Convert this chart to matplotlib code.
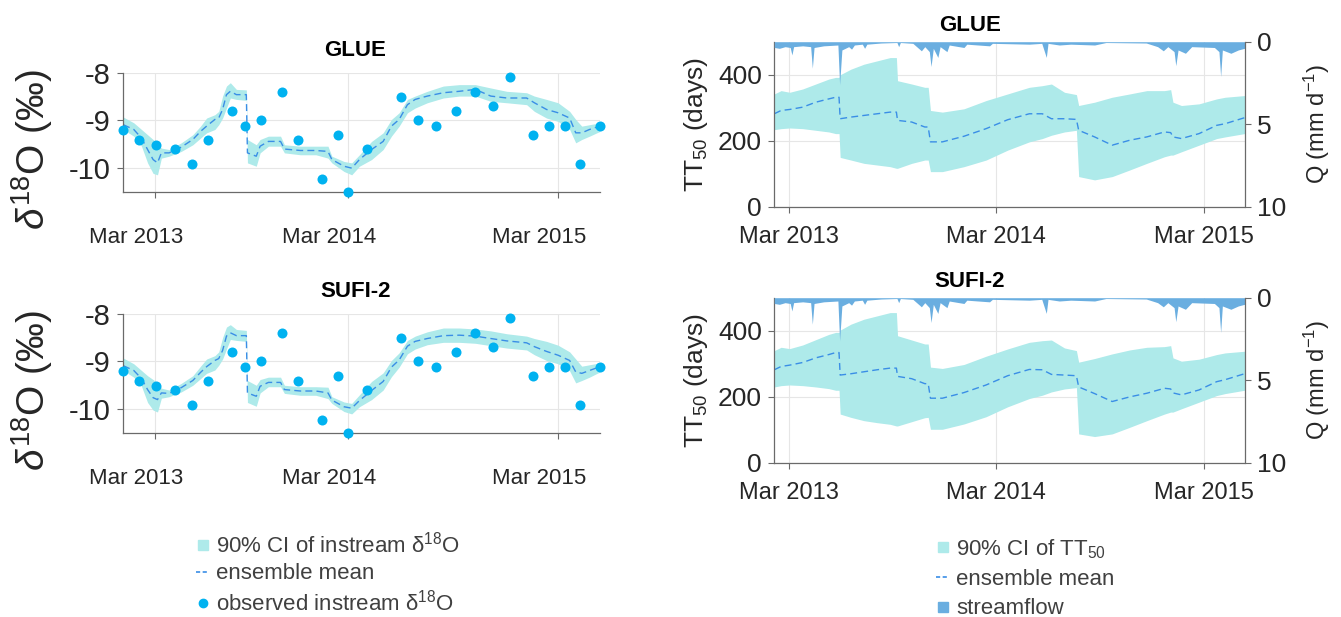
import numpy as np
import matplotlib
matplotlib.use('Agg')
import matplotlib.pyplot as plt
import matplotlib.dates as mdates
from matplotlib.lines import Line2D
from matplotlib.transforms import ScaledTranslation

plt.rcParams['font.family'] = ['Liberation Sans', 'DejaVu Sans']
plt.rcParams['mathtext.fontset'] = 'custom'
plt.rcParams['mathtext.rm'] = 'Liberation Sans'
plt.rcParams['mathtext.it'] = 'Liberation Sans:italic'
plt.rcParams['mathtext.bf'] = 'Liberation Sans:bold'
plt.rcParams['axes.unicode_minus'] = False

# ---------------- data: instream d18O (left panels) ----------------
iso_dates = ['2013-01-02', '2013-01-21', '2013-02-04', '2013-02-15', '2013-02-25', '2013-03-05',
             '2013-03-12', '2013-03-26', '2013-04-17', '2013-05-08', '2013-05-22', '2013-06-02',
             '2013-06-17', '2013-06-24', '2013-07-01', '2013-07-08', '2013-07-15', '2013-07-26',
             '2013-08-13', '2013-08-15', '2013-08-31', '2013-09-07', '2013-09-22', '2013-10-14',
             '2013-10-21', '2013-11-19', '2013-12-17', '2014-01-08', '2014-01-15', '2014-02-06',
             '2014-02-20', '2014-03-06', '2014-03-28', '2014-04-18', '2014-05-03', '2014-05-17',
             '2014-06-01', '2014-06-15', '2014-07-07', '2014-08-05', '2014-09-03', '2014-10-02',
             '2014-10-30', '2014-11-28', '2015-01-03', '2015-01-17', '2015-02-08', '2015-03-01',
             '2015-03-22', '2015-04-02', '2015-04-13', '2015-04-27', '2015-05-16']

glue_iso_upper = [-8.93, -9.05, -9.19, -9.30, -9.40, -9.47, -9.58, -9.61, -9.47, -9.30, -9.12, -8.95,
                  -8.88, -8.81, -8.49, -8.28, -8.21, -8.35, -8.36, -9.40, -9.51, -9.40, -9.33, -9.33,
                  -9.51, -9.54, -9.54, -9.54, -9.75, -9.86, -9.89, -9.72, -9.44, -9.26, -8.98, -8.84,
                  -8.56, -8.49, -8.39, -8.28, -8.25, -8.25, -8.32, -8.39, -8.42, -8.49, -8.56, -8.63,
                  -8.81, -8.98, -9.12, -9.09, -9.05]
glue_iso_lower = [-9.19, -9.33, -9.54, -9.89, -10.11, -10.14, -9.79, -9.75, -9.65, -9.51, -9.37, -9.26,
                  -9.19, -9.09, -8.95, -8.74, -8.53, -8.56, -8.58, -9.89, -9.96, -9.68, -9.54, -9.54,
                  -9.68, -9.72, -9.72, -9.79, -9.89, -10.07, -10.14, -9.96, -9.82, -9.61, -9.33, -9.12,
                  -8.84, -8.74, -8.63, -8.53, -8.49, -8.49, -8.60, -8.63, -8.67, -8.81, -8.95, -9.02,
                  -9.19, -9.47, -9.40, -9.33, -9.23]
glue_iso_mean = [-9.09, -9.19, -9.37, -9.61, -9.82, -9.89, -9.68, -9.68, -9.56, -9.40, -9.23, -9.12,
                 -8.98, -8.95, -8.77, -8.46, -8.39, -8.46, -8.46, -9.68, -9.75, -9.54, -9.44, -9.44,
                 -9.60, -9.63, -9.63, -9.65, -9.82, -9.96, -10.00, -9.82, -9.61, -9.44, -9.12, -8.98,
                 -8.67, -8.56, -8.49, -8.42, -8.39, -8.35, -8.49, -8.53, -8.53, -8.63, -8.77, -8.84,
                 -8.95, -9.26, -9.26, -9.19, -9.12]

sufi_iso_upper = [-8.93, -9.05, -9.19, -9.30, -9.38, -9.45, -9.56, -9.60, -9.46, -9.30, -9.10, -8.95,
                  -8.88, -8.80, -8.50, -8.28, -8.23, -8.33, -8.35, -9.40, -9.50, -9.38, -9.33, -9.33,
                  -9.50, -9.53, -9.53, -9.54, -9.74, -9.85, -9.88, -9.70, -9.42, -9.24, -8.98, -8.82,
                  -8.56, -8.47, -8.38, -8.30, -8.30, -8.32, -8.36, -8.42, -8.47, -8.52, -8.58, -8.66,
                  -8.80, -8.95, -9.10, -9.07, -9.03]
sufi_iso_lower = [-9.19, -9.33, -9.52, -9.86, -10.02, -10.06, -9.77, -9.74, -9.64, -9.50, -9.36, -9.25,
                  -9.18, -9.08, -8.95, -8.74, -8.54, -8.56, -8.58, -9.86, -9.94, -9.66, -9.53, -9.53,
                  -9.67, -9.71, -9.71, -9.78, -9.88, -10.05, -10.10, -9.95, -9.80, -9.60, -9.32, -9.12,
                  -8.84, -8.74, -8.65, -8.60, -8.60, -8.62, -8.67, -8.72, -8.76, -8.86, -8.98, -9.05,
                  -9.20, -9.45, -9.40, -9.33, -9.22]
sufi_iso_mean = [-9.09, -9.19, -9.36, -9.59, -9.76, -9.80, -9.66, -9.67, -9.55, -9.40, -9.23, -9.11,
                 -8.98, -8.94, -8.77, -8.47, -8.40, -8.46, -8.46, -9.66, -9.73, -9.52, -9.44, -9.44,
                 -9.59, -9.62, -9.62, -9.66, -9.81, -9.95, -9.98, -9.82, -9.61, -9.42, -9.12, -8.97,
                 -8.68, -8.58, -8.52, -8.46, -8.45, -8.47, -8.52, -8.57, -8.61, -8.69, -8.79, -8.87,
                 -8.98, -9.22, -9.25, -9.19, -9.11]

obs_dates = ['2013-01-02', '2013-01-30', '2013-03-03', '2013-04-06', '2013-05-06', '2013-06-05',
             '2013-07-18', '2013-08-10', '2013-09-09', '2013-10-17', '2013-11-14', '2013-12-29',
             '2014-01-26', '2014-02-13', '2014-03-19', '2014-05-21', '2014-06-21', '2014-07-23',
             '2014-08-28', '2014-10-02', '2014-11-03', '2014-12-04', '2015-01-15', '2015-02-13',
             '2015-03-13', '2015-04-10', '2015-05-16']
obs_d18o = [-9.21, -9.40, -9.51, -9.60, -9.91, -9.40, -8.80, -9.11, -9.00, -8.40, -9.40, -10.22,
            -9.31, -10.50, -9.59, -8.50, -9.00, -9.11, -8.80, -8.40, -8.70, -8.10, -9.31, -9.11,
            -9.11, -9.91, -9.11]

# ---------------- data: TT50 and streamflow (right panels) ----------------
tt_dates = ['2013-02-03', '2013-02-15', '2013-03-02', '2013-03-25', '2013-04-17', '2013-05-10',
            '2013-05-22', '2013-05-28', '2013-05-30', '2013-06-18', '2013-07-11', '2013-08-03',
            '2013-08-26', '2013-09-06', '2013-09-08', '2013-10-03', '2013-10-26', '2013-11-01',
            '2013-11-05', '2013-11-26', '2014-01-03', '2014-02-11', '2014-03-21', '2014-04-28',
            '2014-05-21', '2014-06-06', '2014-06-29', '2014-07-20', '2014-07-24', '2014-08-21',
            '2014-09-21', '2014-10-22', '2014-11-21', '2014-12-22', '2015-01-02', '2015-01-06',
            '2015-01-21', '2015-02-21', '2015-03-24', '2015-04-08', '2015-05-12']

glue_tt_upper = [342, 352, 347, 357, 372, 387, 392, 392, 400, 417, 432, 442, 452, 452, 382, 372, 362,
                 362, 292, 287, 297, 322, 342, 362, 367, 372, 347, 340, 307, 317, 332, 342, 352, 352,
                 355, 317, 307, 312, 327, 332, 337]
glue_tt_lower = [234, 237, 239, 237, 232, 227, 222, 222, 150, 142, 132, 127, 122, 117, 117, 132, 142,
                 142, 107, 107, 122, 142, 172, 197, 207, 217, 227, 232, 92, 82, 92, 112, 132, 152,
                 157, 157, 167, 187, 207, 212, 222]
glue_tt_mean = [282, 292, 295, 302, 317, 327, 332, 332, 267, 272, 277, 282, 287, 287, 262, 257, 242,
                242, 197, 197, 214, 237, 264, 282, 282, 267, 267, 265, 232, 212, 187, 202, 212, 227,
                225, 212, 207, 222, 247, 252, 270]

sufi_tt_upper = [340, 350, 346, 357, 373, 389, 395, 395, 402, 420, 435, 445, 455, 455, 385, 372, 360,
                 360, 290, 286, 298, 323, 345, 365, 370, 372, 348, 340, 305, 316, 330, 342, 350, 352,
                 355, 318, 308, 314, 328, 333, 338]
sufi_tt_lower = [230, 234, 236, 234, 230, 225, 220, 220, 148, 138, 128, 122, 117, 112, 112, 125, 137,
                 138, 102, 102, 118, 140, 170, 195, 205, 215, 224, 228, 88, 80, 88, 108, 128, 148,
                 154, 154, 164, 184, 204, 210, 220]
sufi_tt_mean = [282, 292, 296, 304, 318, 328, 334, 334, 266, 270, 276, 282, 287, 287, 262, 255, 240,
                240, 196, 196, 213, 236, 264, 283, 282, 268, 266, 264, 230, 210, 186, 200, 211, 226,
                224, 212, 206, 221, 246, 252, 270]

q_dates = ['2013-02-03', '2013-02-12', '2013-02-22', '2013-03-03', '2013-03-06', '2013-03-09',
           '2013-03-25', '2013-04-08', '2013-04-11', '2013-04-14', '2013-05-01', '2013-05-26',
           '2013-05-29', '2013-06-02', '2013-06-14', '2013-06-19', '2013-06-24', '2013-07-08',
           '2013-07-12', '2013-07-16', '2013-08-10', '2013-09-07', '2013-09-10', '2013-09-13',
           '2013-10-05', '2013-10-20', '2013-10-26', '2013-11-03', '2013-11-06', '2013-11-10',
           '2013-11-18', '2013-11-22', '2013-12-04', '2013-12-08', '2014-01-03', '2014-01-08',
           '2014-02-17', '2014-02-22', '2014-04-28', '2014-05-20', '2014-05-28', '2014-05-31',
           '2014-06-20', '2014-07-10', '2014-08-21', '2014-09-10', '2014-11-20', '2014-12-10',
           '2014-12-20', '2014-12-28', '2015-01-08', '2015-01-11', '2015-01-15', '2015-01-28',
           '2015-02-08', '2015-03-20', '2015-03-28', '2015-03-31', '2015-04-03', '2015-04-18',
           '2015-05-01', '2015-05-12']
q_flow = [0.35, 0.40, 0.30, 0.35, 0.80, 0.30, 0.25, 0.30, 1.60, 0.35, 0.25, 0.20,
          2.60, 0.50, 0.30, 0.45, 0.20, 0.15, 0.40, 0.15, 0.08, 0.05, 0.30, 0.05,
          0.10, 0.55, 0.30, 0.60, 1.50, 0.40, 0.95, 0.30, 0.60, 0.20, 0.35, 0.15,
          0.25, 0.10, 0.15, 0.10, 0.95, 0.10, 0.20, 0.15, 0.20, 0.05, 0.08, 0.30,
          0.55, 0.30, 0.60, 1.45, 0.50, 0.70, 0.30, 0.35, 0.60, 2.10, 0.50, 0.70,
          0.50, 0.40]

left_ticks = ['2013-03-01', '2014-02-13', '2015-03-01']
right_ticks = ['2013-03-01', '2014-03-01', '2015-03-01']
tick_labels = ['Mar 2013', 'Mar 2014', 'Mar 2015']

# ---------------- style ----------------
BAND = '#aeeaea'
MEAN = '#3a8ee6'
DOT = '#00b2f0'
FLOW = '#6aaee0'
SPINE = '#6a6a6a'
GRID = '#e6e6e6'
TXT = '#262626'


def dn(lst):
    return mdates.date2num(np.array(lst, dtype='datetime64[D]'))


W, H = 1341, 617
fig = plt.figure(figsize=(W / 100, H / 100), dpi=100)


def px_axes(x0, x1, ytop, ybot):
    return fig.add_axes([x0 / W, 1 - ybot / H, (x1 - x0) / W, (ybot - ytop) / H])


def style_axes(ax, xfs, yfs, xpad):
    ax.grid(True, color=GRID, lw=0.8)
    ax.set_axisbelow(True)
    for s in ['top', 'right']:
        ax.spines[s].set_visible(False)
    for s in ['left', 'bottom']:
        ax.spines[s].set_color(SPINE)
        ax.spines[s].set_linewidth(0.9)
    ax.tick_params(axis='x', direction='out', length=4, width=0.8, color=SPINE,
                   labelsize=xfs, labelcolor=TXT, pad=xpad)
    ax.tick_params(axis='y', direction='out', length=4, width=0.8, color=SPINE,
                   labelsize=yfs, labelcolor=TXT, pad=5)


def draw_isotope(ax, upper, lower, mean, title):
    x = dn(iso_dates)
    ax.fill_between(x, lower, upper, color=BAND, lw=0)
    ax.plot(x, mean, ls=(0, (5, 3)), color=MEAN, lw=1.0)
    ax.scatter(dn(obs_dates), obs_d18o, s=52, color=DOT, linewidths=0, zorder=4, clip_on=False)
    ax.set_xlim(dn(['2013-01-02'])[0], dn(['2015-05-16'])[0])
    ax.set_ylim(-10.5, -8)
    ax.set_yticks([-10, -9, -8])
    ax.set_xticks(dn(left_ticks))
    ax.set_xticklabels(tick_labels)
    style_axes(ax, 16, 21, 21)
    shift = ScaledTranslation(-0.19, 0, fig.dpi_scale_trans)
    for lab in ax.get_xticklabels():
        lab.set_transform(lab.get_transform() + shift)
    ax.set_ylabel(r'$\delta^{18}$O (‰)', fontsize=28, color=TXT)
    ax.yaxis.set_label_coords(-0.143, 0.36)
    ax.set_title(title, fontsize=16, fontweight='bold', x=0.487, pad=12)


def draw_transit(ax, upper, lower, mean, title):
    x = dn(tt_dates)
    ax.fill_between(x, lower, upper, color=BAND, lw=0)
    ax.plot(x, mean, ls=(0, (5, 3)), color=MEAN, lw=1.0)
    ax.set_xlim(dn(['2013-02-03'])[0], dn(['2015-05-12'])[0])
    ax.set_ylim(0, 500)
    ax.set_yticks([0, 200, 400])
    ax.set_xticks(dn(right_ticks))
    ax.set_xticklabels(tick_labels)
    style_axes(ax, 17, 19, 10)
    ax.set_ylabel('TT$_{50}$ (days)', fontsize=19, color=TXT)
    ax.yaxis.set_label_coords(-0.137, 0.5)
    ax.set_title(title, fontsize=16, fontweight='bold', x=0.416, pad=8)

    ax2 = ax.twinx()
    ax2.fill_between(dn(q_dates), 0, q_flow, color=FLOW, lw=0)
    ax2.set_ylim(10, 0)
    ax2.set_yticks([0, 5, 10])
    for s in ['top', 'left', 'bottom']:
        ax2.spines[s].set_visible(False)
    ax2.spines['right'].set_color(SPINE)
    ax2.spines['right'].set_linewidth(0.9)
    ax2.tick_params(axis='y', direction='out', length=4, width=0.8, color=SPINE,
                    labelsize=19, labelcolor=TXT, pad=5)
    ax2.set_ylabel('Q (mm d$^{-1}$)', fontsize=17, color=TXT)
    ax2.yaxis.set_label_coords(1.122, 0.5)


axL1 = px_axes(123.3, 600, 72.7, 192)
axL2 = px_axes(123.3, 600, 313.7, 433)
axR1 = px_axes(774.3, 1244.5, 41.7, 207)
axR2 = px_axes(774.3, 1244.5, 297.7, 463)

draw_isotope(axL1, glue_iso_upper, glue_iso_lower, glue_iso_mean, 'GLUE')
draw_isotope(axL2, sufi_iso_upper, sufi_iso_lower, sufi_iso_mean, 'SUFI-2')
draw_transit(axR1, glue_tt_upper, glue_tt_lower, glue_tt_mean, 'GLUE')
draw_transit(axR2, sufi_tt_upper, sufi_tt_lower, sufi_tt_mean, 'SUFI-2')

# legends
h_left = [Line2D([], [], ls='none', marker='s', ms=7, mfc=BAND, mec=BAND),
          Line2D([], [], ls=(0, (2.5, 1.5)), color=MEAN, lw=1.2),
          Line2D([], [], ls='none', marker='o', ms=6, mfc=DOT, mec=DOT)]
fig.legend(h_left, [r'90% CI of instream δ$^{18}$O', 'ensemble mean', r'observed instream δ$^{18}$O'],
           loc='upper left', bbox_to_anchor=(196 / W, 1 - 532 / H), frameon=False, fontsize=16,
           handlelength=0.6, handletextpad=0.3, labelspacing=0.25, borderaxespad=0, borderpad=0,
           labelcolor='#404040')

h_right = [Line2D([], [], ls='none', marker='s', ms=7, mfc=BAND, mec=BAND),
           Line2D([], [], ls=(0, (2.5, 1.5)), color=MEAN, lw=1.2),
           Line2D([], [], ls='none', marker='s', ms=7, mfc=FLOW, mec=FLOW)]
fig.legend(h_right, ['90% CI of TT$_{50}$', 'ensemble mean', 'streamflow'],
           loc='upper left', bbox_to_anchor=(936 / W, 1 - 537 / H), frameon=False, fontsize=16,
           handlelength=0.6, handletextpad=0.3, labelspacing=0.38, borderaxespad=0, borderpad=0,
           labelcolor='#404040')

fig.savefig('out.png', dpi=100)
